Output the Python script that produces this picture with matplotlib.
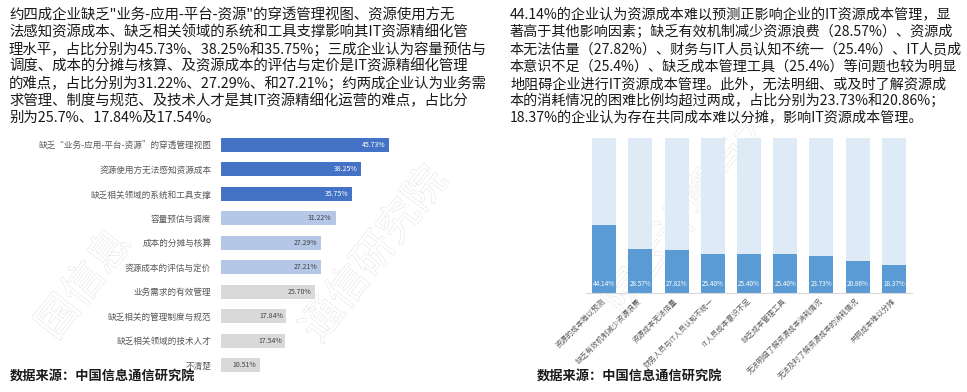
import numpy as np
import matplotlib
matplotlib.use('Agg')
from matplotlib import pyplot as plt
import matplotlib.patheffects as pe

plt.rcParams['font.family'] = ['Noto Sans CJK SC', 'DejaVu Sans']

# left chart data
left_cats = ['缺乏“业务-应用-平台-资源”的穿透管理视图', '资源使用方无法感知资源成本', '缺乏相关领域的系统和工具支撑',
             '容量预估与调度', '成本的分摊与核算', '资源成本的评估与定价',
             '业务需求的有效管理', '缺乏相关的管理制度与规范', '缺乏相关领域的技术人才', '不清楚']
left_vals = [45.73, 38.25, 35.75, 31.22, 27.29, 27.21, 25.70, 17.84, 17.54, 10.51]
left_group = [0, 0, 0, 1, 1, 1, 2, 2, 2, 2]

# right chart data
right_cats = ['资源的成本难以预测', '缺乏有效机制减少资源浪费', '资源成本无法估量', '财务人员与IT人员认知不统一',
              'IT人员成本意识不足', '缺乏成本管理工具', '无法明细了解资源成本消耗情况',
              '无法及时了解资源成本的消耗情况', '共同成本难以分摊']
right_vals = [44.14, 28.57, 27.82, 25.40, 25.40, 25.40, 23.73, 20.86, 18.37]

left_text = ['约四成企业缺乏"业务-应用-平台-资源"的穿透管理视图、资源使用方无',
             '法感知资源成本、缺乏相关领域的系统和工具支撑影响其IT资源精细化管',
             '理水平，占比分别为45.73%、38.25%和35.75%；三成企业认为容量预估与',
             '调度、成本的分摊与核算、及资源成本的评估与定价是IT资源精细化管理',
             '的难点，占比分别为31.22%、27.29%、和27.21%；约两成企业认为业务需',
             '求管理、制度与规范、及技术人才是其IT资源精细化运营的难点，占比分',
             '别为25.7%、17.84%及17.54%。']
right_text = ['44.14%的企业认为资源成本难以预测正影响企业的IT资源成本管理，显',
              '著高于其他影响因素；缺乏有效机制减少资源浪费（28.57%）、资源成',
              '本无法估量（27.82%）、财务与IT人员认知不统一（25.4%）、IT人员成',
              '本意识不足（25.4%）、缺乏成本管理工具（25.4%）等问题也较为明显',
              '地阻碍企业进行IT资源成本管理。此外，无法明细、或及时了解资源成',
              '本的消耗情况的困难比例均超过两成，占比分别为23.73%和20.86%；',
              '18.37%的企业认为存在共同成本难以分摊，影响IT资源成本管理。']
source = '数据来源：中国信息通信研究院'

W, H = 967, 392
fig = plt.figure(figsize=(W / 100, H / 100), dpi=100)

def px(x, y):
    return x / W, 1 - y / H

def ax_rect(x0, y0, x1, y1):
    return [x0 / W, 1 - y1 / H, (x1 - x0) / W, (y1 - y0) / H]

# faint outlined watermark
wm = dict(color='white', zorder=-5, ha='center', va='center', rotation=52,
          fontweight='light',
          path_effects=[pe.withStroke(linewidth=0.6, foreground='#dedede')])
fig.text(*px(85, 285), '国信息', fontsize=30, **wm)
fig.text(*px(375, 255), '通信研究院', fontsize=30, **wm)
fig.text(*px(690, 210), '院云计算与大', fontsize=30, **wm)

# paragraphs
for i, line in enumerate(left_text):
    fig.text(*px(9, 15 + i * 17.2), line, fontsize=10.4, color='#1a1a1a', ha='left', va='center')
for i, line in enumerate(right_text):
    fig.text(*px(510, 15 + i * 17.2), line, fontsize=10.15, color='#1a1a1a', ha='left', va='center')

# left horizontal bars
colors = ['#4472C4', '#B4C7E7', '#D9D9D9']
ax1 = fig.add_axes(ax_rect(221, 132.8, 404.5, 377.2))
ax1.set_facecolor('none')
y = np.arange(len(left_cats))
ax1.barh(y, left_vals, height=0.57, color=[colors[g] for g in left_group])
for yi, v, g in zip(y, left_vals, left_group):
    ax1.text(v - 1.0, yi, f'{v:.2f}%', ha='right', va='center', fontsize=5,
             color='white' if g == 0 else '#404040')
ax1.set_xlim(0, 50)
ax1.set_ylim(len(left_cats) - 0.5, -0.5)
ax1.set_yticks(y)
ax1.set_yticklabels(left_cats, fontsize=6.2, color='#595959')
ax1.tick_params(axis='y', length=0, pad=7)
ax1.set_xticks([])
for s in ax1.spines.values():
    s.set_visible(False)

# right stacked columns
ax2 = fig.add_axes(ax_rect(586, 138, 912, 293))
ax2.set_facecolor('none')
x = np.arange(len(right_cats))
rest = [100 - v for v in right_vals]
ax2.bar(x, right_vals, width=0.66, color='#5B9BD5')
ax2.bar(x, rest, width=0.66, bottom=right_vals, color='#DEEBF7')
for xi, v in zip(x, right_vals):
    ax2.text(xi, 5.5, f'{v:.2f}%', ha='center', va='center', fontsize=4.6, color='white')
ax2.set_xlim(-0.5, len(right_cats) - 0.5)
ax2.set_ylim(0, 100)
ax2.set_yticks([])
ax2.set_xticks(x)
ax2.set_xticklabels(right_cats, fontsize=5.3, color='#595959', rotation=45,
                    ha='right', va='center', rotation_mode='anchor')
ax2.tick_params(axis='x', length=0, pad=5)
for k in ['left', 'right', 'top']:
    ax2.spines[k].set_visible(False)
ax2.spines['bottom'].set_color('#D9D9D9')

# sources
fig.text(*px(10, 377), source, fontsize=9.5, fontweight='bold', color='#1a1a1a', ha='left', va='center')
fig.text(*px(537, 377), source, fontsize=9.5, fontweight='bold', color='#1a1a1a', ha='left', va='center')

fig.savefig('out.png', dpi=100)
